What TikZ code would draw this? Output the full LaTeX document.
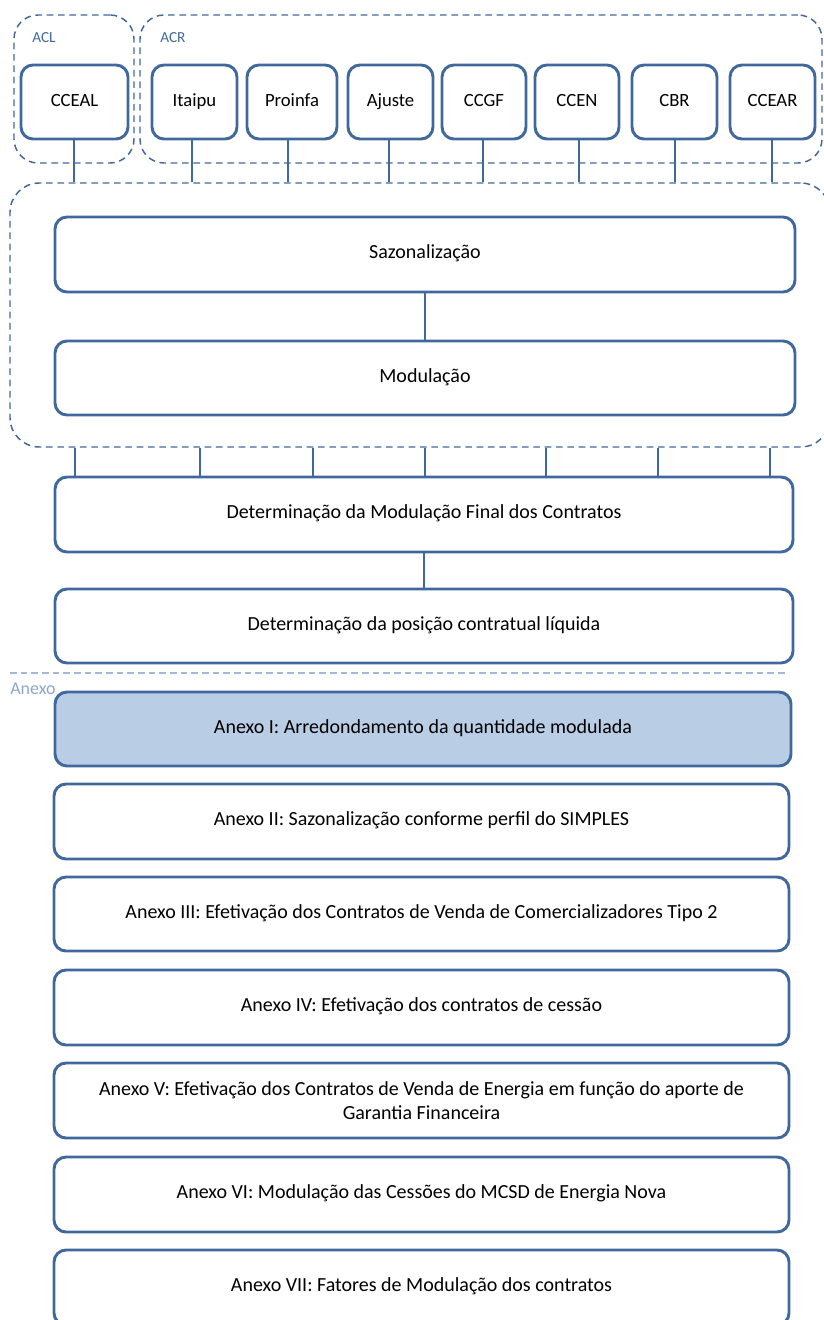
\documentclass[tikz,border=0pt]{standalone}
\usepackage{fontspec}
\setmainfont{Carlito}
\definecolor{edge}{HTML}{41689C}
\definecolor{light}{HTML}{A3B9DA}
\definecolor{lbl}{HTML}{8EA6CA}
\definecolor{anexfill}{HTML}{B9CDE5}
\newcommand{\bx}[7][]{%
  \pgfmathsetmacro\bxcx{(#3+#5)/2}%
  \pgfmathsetmacro\bxcy{(#4+#6)/2}%
  \pgfmathsetmacro\bxw{0.75*(#5-#3)}%
  \pgfmathsetmacro\bxh{0.75*(#6-#4)}%
  \node[minimum width=\bxw pt,minimum height=\bxh pt,#1] (#2) at (\bxcx,\bxcy) {#7};}
\begin{document}
\begin{tikzpicture}[x=0.75pt,y=-0.75pt,
  box/.style={draw=edge,line width=2.2pt,rounded corners=9pt,inner sep=0pt,align=center,
    text height=0.7em,text depth=0.08em,font=\fontsize{15}{18}\selectfont},
  tbox/.style={box,font=\fontsize{14}{16}\selectfont},
  grp/.style={draw=edge,line width=1.1pt,dash pattern=on 5pt off 3.5pt,rounded corners=18pt,inner sep=0pt},
  conn/.style={draw=edge,line width=2.2pt},
  grplabel/.style={text=edge,font=\fontsize{11.5}{13}\selectfont,anchor=west,inner sep=0pt}]
\useasboundingbox (0,0) rectangle (824,1320);
% group frames
\bx[grp]{acl}{14}{15}{134}{163}{}
\bx[grp]{acr}{140}{15}{822}{163}{}
\bx[grp,rounded corners=22pt]{big}{10}{183}{830}{447}{}
\node[grplabel] (acllbl) at (32,38) {ACL};
\node[grplabel] (acrlbl) at (160,38) {ACR};
% top contract boxes
\bx[tbox]{cceal}{21}{65}{128}{139}{CCEAL}
\bx[tbox]{itaipu}{152}{65}{237}{139}{Itaipu}
\bx[tbox]{proinfa}{247}{65}{337}{139}{Proinfa}
\bx[tbox]{ajuste}{348}{65}{433}{139}{Ajuste}
\bx[tbox]{ccgf}{442}{65}{526}{139}{CCGF}
\bx[tbox]{ccen}{535}{65}{619}{139}{CCEN}
\bx[tbox]{cbr}{632}{65}{717}{139}{CBR}
\bx[tbox]{ccear}{730}{65}{815}{139}{CCEAR}
\foreach \n/\x in {cceal/74,itaipu/192,proinfa/288,ajuste/389,ccgf/483,ccen/579,cbr/675,ccear/772}{
  \coordinate (c\n) at (\x,0);
  \draw[conn] (c\n |- \n.south) -- (c\n |- big.north);
}
% main boxes
\bx[box]{saz}{55}{217}{795}{292}{Sazonalização}
\bx[box]{mod}{55}{341}{795}{415}{Modulação}
\draw[conn] (saz) -- (mod);
\bx[box]{det}{55}{477}{793}{552}{Determinação da Modulação Final dos Contratos}
\foreach \i/\x in {1/75,2/200,3/313,4/425,5/546,6/658,7/770}{
  \coordinate (b\i) at (\x,0);
  \draw[conn] (b\i |- big.south) -- (b\i |- det.north);
}
\bx[box]{pos}{55}{589}{793}{663}{Determinação da posição contratual líquida}
\draw[conn] (det) -- (pos);
% annex separator
\coordinate (sepL) at (10,673);
\coordinate (sepR) at (785,673);
\draw[light,line width=1.6pt,dash pattern=on 5pt off 3pt] (sepL) -- (sepR);
\node[anchor=west,inner sep=0pt,text=lbl,font=\fontsize{13.5}{15}\selectfont] (anexolbl) at (10,689) {Anexo};
% annex boxes
\bx[box,fill=anexfill]{a1}{55}{692}{791}{766}{Anexo I: Arredondamento da quantidade modulada}
\bx[box]{a2}{54}{784}{789}{859}{Anexo II: Sazonalização conforme perfil do SIMPLES}
\bx[box]{a3}{54}{877}{789}{951}{Anexo III: Efetivação dos Contratos de Venda de Comercializadores Tipo 2}
\bx[box]{a4}{54}{970}{789}{1045}{Anexo IV: Efetivação dos contratos de cessão}
\bx[box,text height=,text depth=]{a5}{54}{1063}{789}{1138}{Anexo V: Efetivação dos Contratos de Venda de Energia em função do aporte de\\Garantia Financeira}
\bx[box]{a6}{54}{1157}{789}{1232}{Anexo VI: Modulação das Cessões do MCSD de Energia Nova}
\bx[box]{a7}{54}{1250}{789}{1325}{Anexo VII: Fatores de Modulação dos contratos}
\end{tikzpicture}
\end{document}
